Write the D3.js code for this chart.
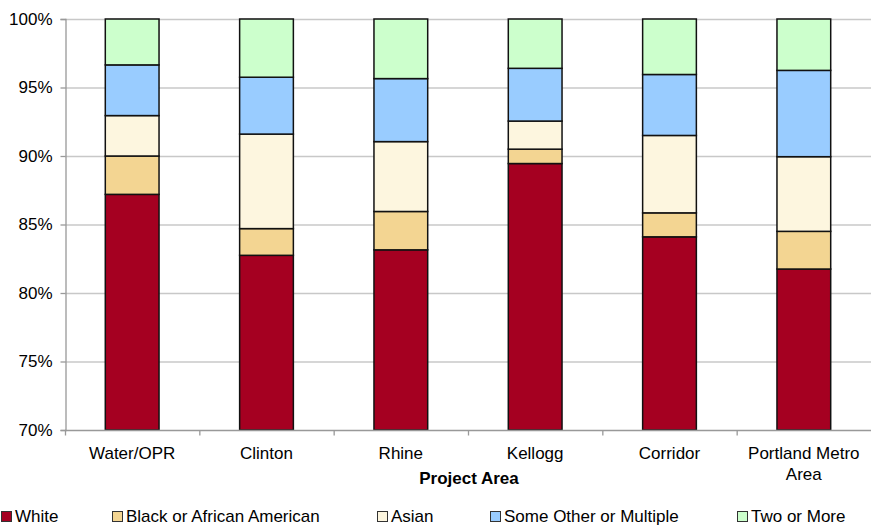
<!DOCTYPE html>
<html><head><meta charset="utf-8">
<script src="https://cdn.jsdelivr.net/npm/d3@7"></script>
<style>body{margin:0;background:#fff}svg{display:block}text{font-family:"Liberation Sans",Arial,sans-serif;fill:#000}</style>
</head><body>
<svg id="c" width="871" height="526"></svg>
<script>
const categories = ["Water/OPR","Clinton","Rhine","Kellogg","Corridor","Portland Metro Area"];
const seriesNames = ["White","Black or African American","Asian","Some Other or Multiple","Two or More"];
const white  = [87.2, 82.75, 83.15, 89.45, 84.1, 81.75];
const black  = [2.8, 1.95, 2.8, 1.05, 1.75, 2.75];
const asian  = [2.95, 6.9, 5.1, 2.05, 5.65, 5.45];
const other  = [3.7, 4.15, 4.6, 3.85, 4.45, 6.3];
const twoMore= [3.35, 4.25, 4.35, 3.6, 4.05, 3.75];
const colors = ["#A50021","#F3D592","#FDF6DF","#99CCFF","#CCFFCC"];
const yTicks = [70,75,80,85,90,95,100];
const xTitle = "Project Area";

const seriesVals = [white, black, asian, other, twoMore];
const data = categories.map((c,i)=>{const o={cat:c}; seriesNames.forEach((s,j)=>o[s]=seriesVals[j][i]); return o;});

const svg = d3.select("#c");
const L=65, R=871, T=19, B=430;
const x = d3.scaleBand().domain(categories).range([L,R]).paddingInner(0.6).paddingOuter(0.3);
const xb = d3.scaleBand().domain(categories).range([L,R]).padding(0);
const y = d3.scaleLinear().domain([70,100]).range([B,T]).clamp(true);

// gridlines
svg.append("g").selectAll("line").data(yTicks.filter(t=>t>70)).join("line")
  .attr("x1",L).attr("x2",R).attr("y1",d=>y(d)+0.5).attr("y2",d=>y(d)+0.5)
  .attr("stroke","#c8c8c8").attr("stroke-width",1.3);

// y axis
const ya = svg.append("g").attr("transform",`translate(${L+0.5},0)`)
  .call(d3.axisLeft(y).tickValues(yTicks).tickSize(5).tickPadding(8).tickFormat(d=>d+"%"));
ya.select(".domain").attr("stroke","#999").attr("stroke-width",1.3);
ya.selectAll(".tick line").attr("stroke","#999").attr("stroke-width",1.3);
ya.selectAll("text").style("font-size","17px").attr("fill","#000");

// stacked bars
const stack = d3.stack().keys(seriesNames)(data);
const g = svg.append("g");
stack.forEach((layer,j)=>{
  g.selectAll(null).data(layer).join("rect")
    .attr("x",d=>x(d.data.cat)).attr("width",x.bandwidth())
    .attr("y",d=>y(d[1])).attr("height",d=>y(d[0])-y(d[1]))
    .attr("fill",colors[j]).attr("stroke","#111").attr("stroke-width",1.5);
});

// x axis
const xa = svg.append("g").attr("transform",`translate(0,${B+0.5})`);
xa.append("line").attr("x1",L).attr("x2",R).attr("stroke","#999").attr("stroke-width",1.3);
xa.selectAll("line.tk").data(categories).join("line").attr("class","tk")
  .attr("x1",d=>xb(d)+0.5).attr("x2",d=>xb(d)+0.5).attr("y1",0).attr("y2",5)
  .attr("stroke","#999").attr("stroke-width",1.3);
const lbl = svg.append("g").selectAll("text").data(categories).join("text")
  .attr("x",d=>x(d)+x.bandwidth()/2).attr("y",459).attr("text-anchor","middle").style("font-size","17px");
lbl.each(function(d){
  const t=d3.select(this);
  if(d==="Portland Metro Area"){
    t.append("tspan").attr("x",x(d)+x.bandwidth()/2).text("Portland Metro");
    t.append("tspan").attr("x",x(d)+x.bandwidth()/2).attr("dy",21).text("Area");
  } else t.text(d);
});
svg.append("text").attr("x",(L+R)/2+1).attr("y",484).attr("text-anchor","middle")
  .style("font-size","17px").style("font-weight","bold").text(xTitle);

// legend
const legX = [1,112,377,490,737];
const leg = svg.append("g");
seriesNames.forEach((s,j)=>{
  leg.append("rect").attr("x",legX[j]+0.5).attr("y",511.5).attr("width",10).attr("height",10)
    .attr("fill",colors[j]).attr("stroke","#333").attr("stroke-width",1);
  leg.append("text").attr("x",legX[j]+14).attr("y",521.5).style("font-size","17px").text(s);
});
</script>
</body></html>
